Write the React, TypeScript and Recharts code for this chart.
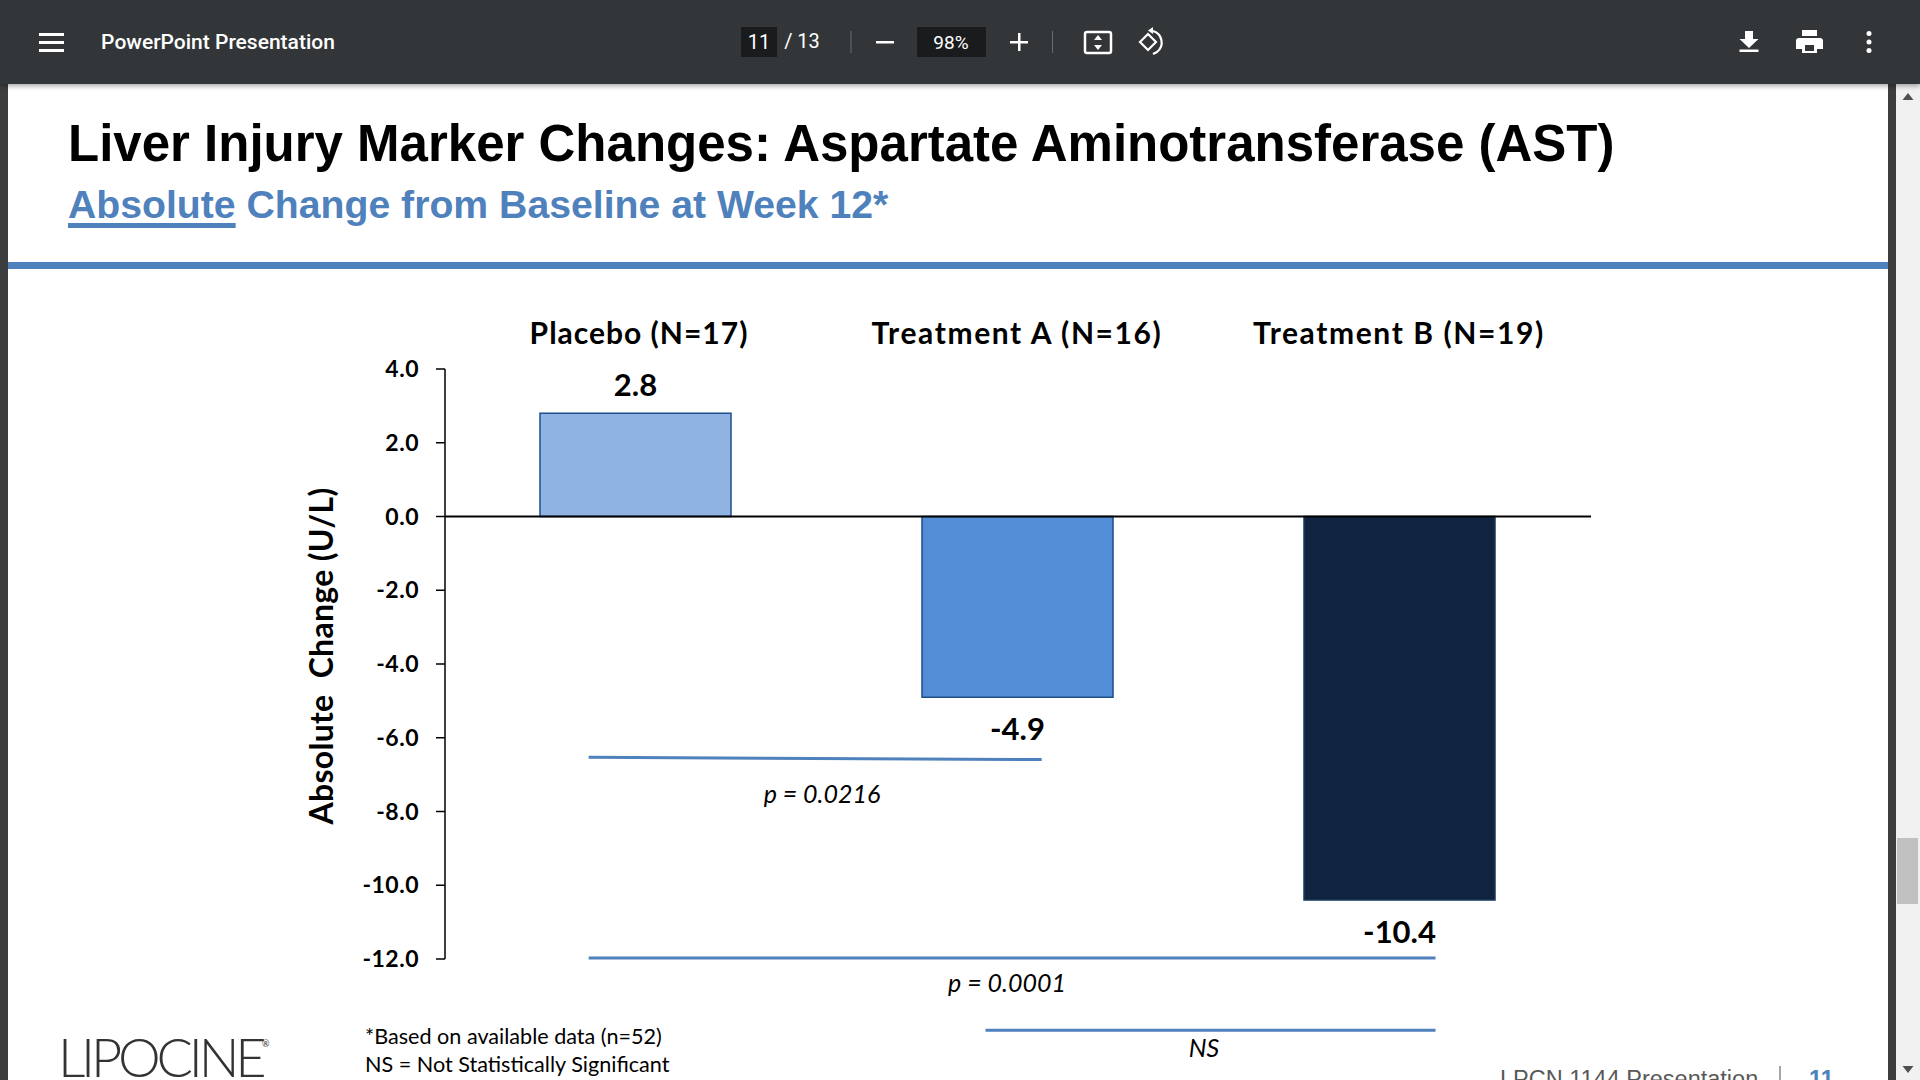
import { BarChart, Bar, Cell, XAxis, YAxis, LabelList, ReferenceLine } from 'recharts';

const categories = ['Placebo (N=17)', 'Treatment A (N=16)', 'Treatment B (N=19)'];
const values = [2.8, -4.9, -10.4];
const yTicks = [4, 2, 0, -2, -4, -6, -8, -10, -12];
const barFills = ['#8fb4e3', '#538dd5', '#10243f'];
const barStrokes = ['#1f4e8c', '#1f4e8c', '#17365d'];

// comparison brackets, x in category widths from the axis, y in U/L
const brackets = [
  { name: 'placebo-a', x1: 0.376, y1: -6.53, x2: 1.562, y2: -6.59 },
  { name: 'placebo-b', x1: 0.376, y1: -11.97, x2: 2.593, y2: -11.97 },
  { name: 'a-b', x1: 1.415, y1: -13.93, x2: 2.593, y2: -13.93 },
];

const chartData = categories.map((name, i) => ({ name, value: values[i], slot: i }));

const CALIBRI = 'Lato, sans-serif';
const ARIAL = '"Liberation Sans", Arial, sans-serif';
const BLUE = '#4f81bd';

const ValueLabel = (props: any) => {
  const { x, y, width, height, value } = props;
  const top = Math.min(y, y + height);
  const bottom = Math.max(y, y + height);
  const cy = value >= 0 ? top - 28 : bottom + 32;
  return (
    <text x={x + width / 2} y={cy} dy="0.35em" textAnchor="middle" fontFamily={CALIBRI} fontWeight={700} fontSize={31} fill="#000">
      {value.toFixed(1)}
    </text>
  );
};

// the placebo heading sits a little right of its bar, the treatment ones run wider
const CategoryTick = ({ x, y, index, payload }: any) => (
  <text
    x={x + (index === 0 ? 4 : 0)}
    y={y}
    textAnchor="middle"
    fontFamily={CALIBRI}
    fontWeight={700}
    fontSize={30}
    letterSpacing={index === 0 ? 1 : 1.6}
    fill="#000"
  >
    {payload.value}
  </text>
);

const Centered = ({ x, y, style, children }: any) => (
  <div style={{ position: 'absolute', left: x, top: y, transform: 'translate(-50%, -50%)', whiteSpace: 'nowrap', ...style }}>
    {children}
  </div>
);

const Toolbar = () => (
  <div style={{ position: 'absolute', left: 0, top: 0, width: 1920, height: 84, background: '#323639', boxShadow: '0 2px 5px rgba(0,0,0,0.35)', color: '#fff', fontFamily: 'Roboto, sans-serif' }}>
    <svg width={1920} height={84} style={{ position: 'absolute', left: 0, top: 0 }}>
      {/* menu */}
      <rect x={39} y={33} width={25} height={3} fill="#fff" />
      <rect x={39} y={41} width={25} height={3} fill="#fff" />
      <rect x={39} y={49} width={25} height={3} fill="#fff" />
      {/* page and zoom boxes */}
      <rect x={741} y={27} width={36} height={30} fill="#191b1c" />
      <rect x={917} y={27} width={69} height={30} fill="#191b1c" />
      <rect x={850.5} y={31} width={1} height={22} fill="#6a6d70" />
      <rect x={1052} y={31} width={1} height={22} fill="#6a6d70" />
      {/* minus, plus */}
      <rect x={876} y={41} width={18} height={2.5} fill="#fff" />
      <rect x={1010} y={41} width={18} height={2.5} fill="#fff" />
      <rect x={1018} y={33} width={2.5} height={18} fill="#fff" />
      {/* fit to page */}
      <rect x={1085} y={32} width={26} height={21} rx={2} fill="none" stroke="#fff" strokeWidth={2.5} />
      <path d="M1098 35 l4 5 h-8 z M1098 50 l4 -5 h-8 z" fill="#fff" />
      {/* rotate */}
      <path d="M1148 34 l-8 8 l8 8 l8 -8 z" fill="none" stroke="#fff" strokeWidth={2.2} />
      <path d="M1153 31 a12 12 0 0 1 4 21 l-4 2" fill="none" stroke="#fff" strokeWidth={2.2} />
      <path d="M1153 27 v7 l-5 -3.5 z" fill="#fff" />
      {/* download */}
      <path d="M1745 31 h8 v8 h5.5 l-9.5 9 l-9.5 -9 h5.5 z" fill="#fff" />
      <rect x={1739.5} y={49.5} width={19} height={2.5} fill="#fff" />
      {/* print */}
      <path d="M1802 30 h15 v6 h-15 z M1799 38 h21 a3 3 0 0 1 3 3 v8 h-6 v4 h-15 v-4 h-6 v-8 a3 3 0 0 1 3 -3 z" fill="#fff" />
      <rect x={1805} y={45} width={9} height={6} fill="#323639" />
      {/* more */}
      <circle cx={1869} cy={33.5} r={2.5} fill="#fff" />
      <circle cx={1869} cy={42} r={2.5} fill="#fff" />
      <circle cx={1869} cy={50.5} r={2.5} fill="#fff" />
    </svg>
    <Centered x={218} y={42} style={{ fontSize: 21, fontWeight: 500 }}>PowerPoint Presentation</Centered>
    <Centered x={759} y={42} style={{ fontSize: 20 }}>11</Centered>
    <Centered x={802} y={41} style={{ fontSize: 20 }}>/ 13</Centered>
    <Centered x={951} y={41.5} style={{ fontSize: 19 }}>98%</Centered>
  </div>
);

const PageFrame = () => (
  <>
    <div style={{ position: 'absolute', left: 0, top: 84, width: 8, height: 996, background: '#3b3d3f' }} />
    <div style={{ position: 'absolute', left: 1888, top: 84, width: 8, height: 996, background: '#3b3d3f' }} />
    <div style={{ position: 'absolute', left: 1896, top: 84, width: 24, height: 996, background: '#f1f1f1' }} />
    <div style={{ position: 'absolute', left: 1897, top: 838, width: 21, height: 66, background: '#c1c1c1' }} />
    <svg width={24} height={996} style={{ position: 'absolute', left: 1896, top: 84 }}>
      <path d="M12 9 l5.5 7 h-11 z" fill="#505050" />
      <path d="M12 989 l5.5 -7 h-11 z" fill="#505050" />
    </svg>
    <div style={{ position: 'absolute', left: 8, top: 262, width: 1880, height: 7, background: BLUE }} />
  </>
);

const SlideText = () => (
  <>
    <div style={{ position: 'absolute', left: 68, top: 114, fontFamily: ARIAL, fontWeight: 700, fontSize: 51, lineHeight: '60px', color: '#000', whiteSpace: 'nowrap' }}>
      Liver Injury Marker Changes: Aspartate Aminotransferase (AST)
    </div>
    <div style={{ position: 'absolute', left: 68, top: 182, fontFamily: ARIAL, fontWeight: 700, fontSize: 39.2, lineHeight: '46px', color: BLUE, whiteSpace: 'nowrap' }}>
      <span style={{ textDecoration: 'underline', textDecorationThickness: 5, textUnderlineOffset: 5 }}>Absolute</span> Change from Baseline at Week 12*
    </div>
    <Centered x={822} y={793} style={{ fontFamily: CALIBRI, fontStyle: 'italic', fontSize: 25 }}>p = 0.0216</Centered>
    <Centered x={1007} y={982} style={{ fontFamily: CALIBRI, fontStyle: 'italic', fontSize: 25 }}>p = 0.0001</Centered>
    <Centered x={1204} y={1047} style={{ fontFamily: CALIBRI, fontStyle: 'italic', fontSize: 25 }}>NS</Centered>
    <div style={{ position: 'absolute', left: 365, top: 1022, fontFamily: CALIBRI, fontSize: 21.6, lineHeight: '28px', color: '#000', whiteSpace: 'nowrap' }}>
      *Based on available data (n=52)<br />NS = Not Statistically Significant
    </div>
    <div style={{ position: 'absolute', left: 58, top: 1035, fontFamily: CALIBRI, fontWeight: 300, fontSize: 54, lineHeight: '44px', letterSpacing: -4.2, color: '#333', whiteSpace: 'nowrap' }}>
      LIPOCINE
    </div>
    <div style={{ position: 'absolute', left: 262, top: 1039, fontFamily: CALIBRI, fontSize: 9, lineHeight: '10px', color: '#333' }}>®</div>
    <div style={{ position: 'absolute', left: 1500, top: 1066, fontFamily: ARIAL, fontSize: 23.5, lineHeight: '26px', color: '#595959', whiteSpace: 'nowrap' }}>
      LPCN 1144 Presentation
    </div>
    <div style={{ position: 'absolute', left: 1779, top: 1066, width: 2, height: 14, background: '#a6a6a6' }} />
    <div style={{ position: 'absolute', left: 1809, top: 1066, fontFamily: ARIAL, fontWeight: 700, fontSize: 23.5, lineHeight: '26px', color: BLUE }}>11</div>
  </>
);

const App = () => (
  <div style={{ position: 'absolute', left: 0, top: 0, width: 1920, height: 1080, overflow: 'hidden', background: '#fff' }}>
    <div style={{ position: 'absolute', left: 0, top: 0 }}>
      <BarChart width={1920} height={1080} data={chartData} margin={{ top: 0, right: 329, bottom: 121, left: 0 }} barSize={191}>
        <XAxis
          xAxisId="cat"
          dataKey="name"
          orientation="top"
          height={369}
          axisLine={false}
          tickLine={false}
          tickMargin={19}
          interval={0}
          padding={{ left: -1, right: 1 }}
          tick={CategoryTick}
        />
        <XAxis xAxisId="pos" dataKey="slot" type="number" domain={[0, 3]} allowDataOverflow hide />
        <YAxis
          width={445}
          domain={[-12, 4]}
          ticks={yTicks}
          interval={0}
          tickFormatter={(v: number) => v.toFixed(1)}
          tickSize={9}
          tickMargin={17}
          axisLine={{ stroke: '#000', strokeWidth: 1.5 }}
          tickLine={{ stroke: '#000', strokeWidth: 1.5 }}
          tick={{ fontFamily: CALIBRI, fontWeight: 700, fontSize: 23, letterSpacing: 0.5, fill: '#000' }}
          label={{ value: 'Absolute\u00A0 Change (U/L)', angle: -90, position: 'insideLeft', offset: 322, dy: -8, style: { textAnchor: 'middle', fontFamily: CALIBRI, fontWeight: 700, fontSize: 32, letterSpacing: 0.3, fill: '#000' } }}
        />
        <Bar xAxisId="cat" dataKey="value" isAnimationActive={false} strokeWidth={1.5}>
          {chartData.map((d, i) => (
            <Cell key={d.name} fill={barFills[i]} stroke={barStrokes[i]} />
          ))}
          <LabelList dataKey="value" content={ValueLabel} />
        </Bar>
        <ReferenceLine xAxisId="cat" y={0} stroke="#000" strokeWidth={2} />
        {brackets.map((b) => (
          <ReferenceLine
            key={b.name}
            xAxisId="pos"
            ifOverflow="visible"
            segment={[{ x: b.x1, y: b.y1 }, { x: b.x2, y: b.y2 }]}
            stroke={BLUE}
            strokeWidth={3}
          />
        ))}
      </BarChart>
    </div>
    <PageFrame />
    <SlideText />
    <Toolbar />
  </div>
);

export default App;
